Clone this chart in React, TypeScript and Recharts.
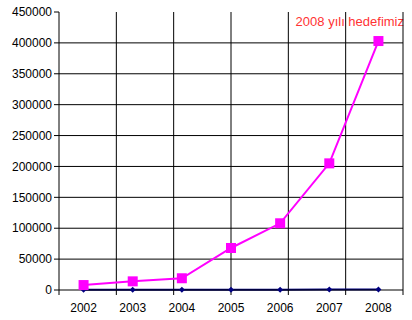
import React from "react";
import {
  ComposedChart,
  Line,
  XAxis,
  YAxis,
  ReferenceLine,
} from "recharts";

// years on the x axis
const years = ["2002", "2003", "2004", "2005", "2006", "2007", "2008"];
// magenta series (target)
const targetValues = [8000, 14000, 19000, 68000, 108000, 205000, 403000];
// navy series, sits on the zero line
const actualValues = [300, 400, 500, 500, 600, 700, 800];
// y axis ticks
const yTicks = [0, 50000, 100000, 150000, 200000, 250000, 300000, 350000, 400000, 450000];
// horizontal grid values (no line at the top)
const hGrid = [50000, 100000, 150000, 200000, 250000, 300000, 350000, 400000];
// category boundaries on the helper axis
const boundaryTicks = [0, 1, 2, 3, 4, 5, 6, 7];
const innerBoundaries = [1, 2, 3, 4, 5, 6];

const data = years.map((year, i) => ({
  year,
  target: targetValues[i],
  actual: actualValues[i],
}));

const SquareDot = (props: any) => {
  const { cx, cy } = props;
  if (cx == null || cy == null) return null;
  return <rect x={cx - 5} y={cy - 5} width={10} height={10} fill="#FF00FF" />;
};

const DiamondDot = (props: any) => {
  const { cx, cy } = props;
  if (cx == null || cy == null) return null;
  return (
    <polygon
      points={`${cx},${cy - 3} ${cx + 3},${cy} ${cx},${cy + 3} ${cx - 3},${cy}`}
      fill="#000080"
    />
  );
};

const font = { fontSize: 12, fill: "#000", fontFamily: "Liberation Sans, Arial, sans-serif" };

export default function App() {
  return (
    <div style={{ position: "absolute", left: 0, top: 0, background: "#fff" }}>
      <ComposedChart
        width={412}
        height={320}
        data={data}
        margin={{ top: 12, right: 9, left: 0, bottom: 0 }}
      >
        <XAxis
          xAxisId="a"
          type="number"
          domain={[0, 7]}
          ticks={boundaryTicks}
          tickFormatter={() => ""}
          height={5}
          tickSize={5}
          stroke="#000"
          axisLine={{ stroke: "#000" }}
          tickLine={{ stroke: "#000" }}
          allowDataOverflow
        />
        <XAxis
          xAxisId="b"
          dataKey="year"
          type="category"
          scale="band"
          axisLine={false}
          tickLine={false}
          height={25}
          tick={font}
          interval={0}
        />
        <YAxis
          domain={[0, 450000]}
          ticks={yTicks}
          width={59}
          tickSize={5}
          tick={font}
          stroke="#000"
          interval={0}
        />
        {hGrid.map((v) => (
          <ReferenceLine key={v} y={v} xAxisId="b" stroke="#000" strokeWidth={1} />
        ))}
        {innerBoundaries.map((v) => (
          <ReferenceLine key={v} x={v} xAxisId="a" stroke="#000" strokeWidth={1} />
        ))}
        <Line
          xAxisId="b"
          dataKey="actual"
          stroke="#000080"
          strokeWidth={2}
          dot={<DiamondDot />}
          isAnimationActive={false}
        />
        <Line
          xAxisId="b"
          dataKey="target"
          stroke="#FF00FF"
          strokeWidth={2}
          dot={<SquareDot />}
          isAnimationActive={false}
        />
        <text
          x={404}
          y={26}
          textAnchor="end"
          fill="#FF3333"
          fontSize={13}
          fontFamily="Liberation Sans Narrow, Liberation Sans, Arial, sans-serif"
        >
          2008 yılı hedefimiz
        </text>
      </ComposedChart>
    </div>
  );
}
